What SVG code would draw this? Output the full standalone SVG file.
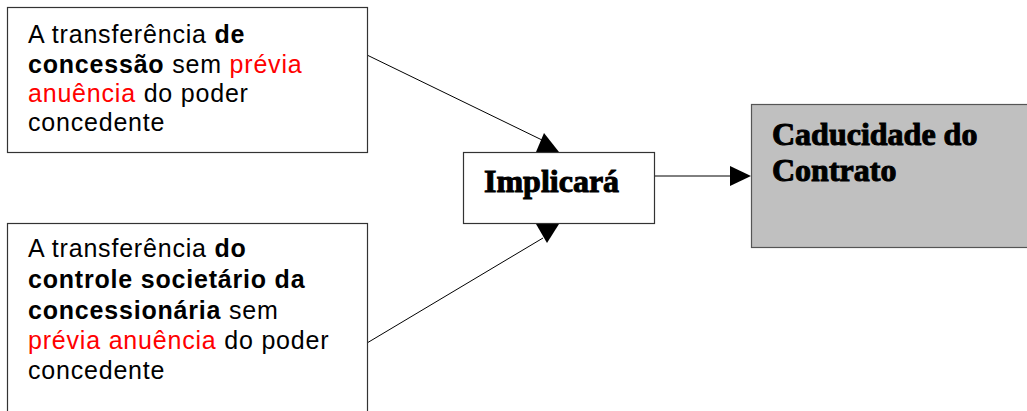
<svg xmlns="http://www.w3.org/2000/svg" width="1027" height="411" viewBox="0 0 1027 411">
<style>
.box{fill:#fff;stroke:#333;stroke-width:1.2}
.grey{fill:#c0c0c0;stroke:#555;stroke-width:1.2}
.t{font-family:"Liberation Sans",Arial,sans-serif;font-size:25px;letter-spacing:0.8px;fill:#000}
.b{font-weight:bold}
.r{fill:#ff0000}
.h{font-family:"Liberation Serif","Times New Roman",serif;font-weight:bold;font-size:32px;fill:#000;stroke:#000;stroke-width:1;letter-spacing:0px}
.ln{stroke:#000;stroke-width:1;fill:none}
.ah{fill:#000}
</style>
<rect width="1027" height="411" fill="#fff"/>
<g id="connectors">
<line class="ln" x1="367" y1="55" x2="542" y2="140"/>
<polygon class="ah" points="544,133 536,152 559,152"/>
<line class="ln" x1="367" y1="343" x2="543" y2="238"/>
<polygon class="ah" points="547,243 536,224 559,224"/>
<line class="ln" x1="654" y1="176" x2="732" y2="176"/>
<polygon class="ah" points="751,176 730,166 730,186"/>
</g>
<g id="node-transferencia-concessao">
<rect class="box" x="7.5" y="7.5" width="360" height="145"/>
<text class="t" x="28" y="43">A transferência <tspan class="b">de</tspan></text>
<text class="t" x="28" y="72.5"><tspan class="b">concessão</tspan> sem <tspan class="r">prévia</tspan></text>
<text class="t" x="28" y="102"><tspan class="r">anuência</tspan> do poder</text>
<text class="t" x="28" y="131">concedente</text>
</g>
<g id="node-transferencia-controle">
<rect class="box" x="7.5" y="223.5" width="360" height="200"/>
<text class="t" x="28" y="257">A transferência <tspan class="b">do</tspan></text>
<text class="t" x="28" y="288"><tspan class="b">controle societário da</tspan></text>
<text class="t" x="28" y="319"><tspan class="b">concessionária</tspan> sem</text>
<text class="t" x="28" y="349"><tspan class="r">prévia anuência</tspan> do poder</text>
<text class="t" x="28" y="379">concedente</text>
</g>
<g id="node-implicara">
<rect class="box" x="463.5" y="152.5" width="191" height="71"/>
<text class="h" x="484" y="192">Implicará</text>
</g>
<g id="node-caducidade">
<rect class="grey" x="751.5" y="104.5" width="285" height="143"/>
<text class="h" x="772" y="145">Caducidade do</text>
<text class="h" x="772" y="181">Contrato</text>
</g>
</svg>
